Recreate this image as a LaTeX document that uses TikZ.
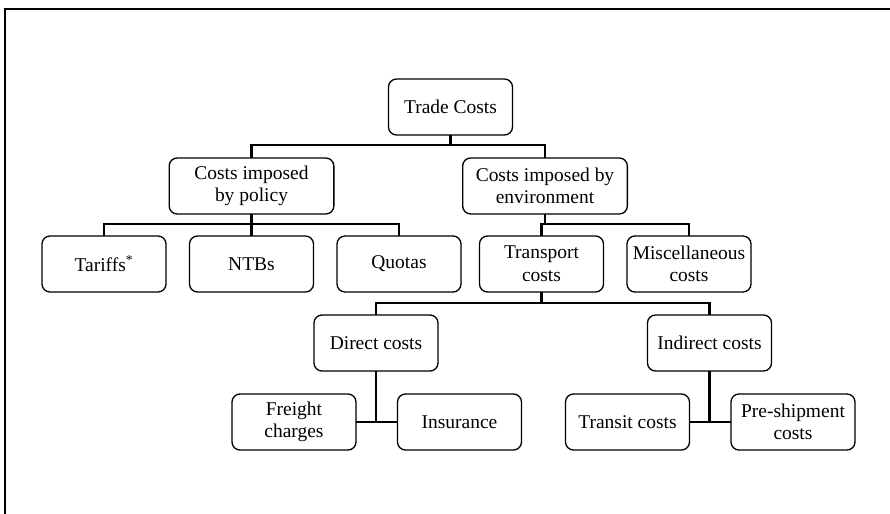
\documentclass[tikz,border=0pt]{standalone}
\usepackage{fontspec}
\setmainfont{Liberation Serif}
\usetikzlibrary{positioning}
\tikzset{
    box/.style={draw, rounded corners=6pt, line width=1pt, fill=white, align=center,
        minimum width=93pt, minimum height=42pt, inner sep=2pt, outer sep=0pt,
        font=\fontsize{14.6}{17}\selectfont},
    widebox/.style={box, minimum width=123.5pt},
    link/.style={line width=2pt},
}
\begin{document}
\begin{tikzpicture}[x=0.75pt,y=-0.75pt]
    \useasboundingbox (0,0) rectangle (890,514);
    \draw[line width=1.5pt] (890,9) -- (4.5,9) -- (4.5,514);
    \node[box] (trade) at (450.5,107) {Trade Costs};
    \node[widebox] (policy) at (251.5,186) {Costs imposed\\by policy};
    \node[widebox] (env) at (545,186) {Costs imposed by\\environment};
    \node[box] (tariffs) at (104,264) {Tariffs\textsuperscript{*}};
    \node[box] (ntbs) at (251.5,264) {NTBs};
    \node[box] (quotas) at (399,264) {Quotas};
    \node[box] (transport) at (541.5,264) {Transport\\costs};
    \node[box] (misc) at (689,264) {Miscellaneous\\costs};
    \node[box] (direct) at (376,343) {Direct costs};
    \node[box] (indirect) at (709.5,343) {Indirect costs};
    \node[box] (freight) at (294,422) {Freight\\charges};
    \node[box] (insurance) at (459.5,422) {Insurance};
    \node[box] (transit) at (627.5,422) {Transit costs};
    \node[box] (preship) at (793,422) {Pre-shipment\\costs};
    \draw[link] (trade.south) -- ++(0,10) -| (policy.north);
    \draw[link] (trade.south) -- ++(0,10) -| (env.north);
    \draw[link] (policy.south) -- ++(0,10) -| (tariffs.north);
    \draw[link] (policy.south) -- ++(0,10) -| (ntbs.north);
    \draw[link] (policy.south) -- ++(0,10) -| (quotas.north);
    \draw[link] (env.south) -- ++(0,10) -| (transport.north);
    \draw[link] (env.south) -- ++(0,10) -| (misc.north);
    \draw[link] (transport.south) -- ++(0,11) -| (direct.north);
    \draw[link] (transport.south) -- ++(0,11) -| (indirect.north);
    \draw[link] (direct.south) |- (freight.east) -- (insurance.west);
    \draw[link] (indirect.south) |- (transit.east) -- (preship.west);
\end{tikzpicture}
\end{document}
